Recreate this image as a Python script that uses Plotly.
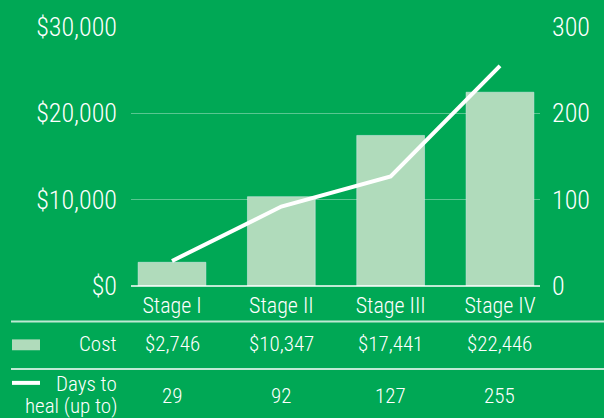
import plotly.graph_objects as go

stages = ["Stage I", "Stage II", "Stage III", "Stage IV"]
cost = [2746, 10347, 17441, 22446]
days = [29, 92, 127, 255]
cost_ticks = [0, 10000, 20000, 30000]
day_ticks = [0, 100, 200, 300]

BG = "#00a855"
BAR = "#b0dbbb"
FONT = "Roboto Condensed, Roboto, sans-serif"
WT = 350

W, H = 604, 418
L, R, T, B = 131, 64, 24, 132
PH = H - T - B  # plot height
PW = W - L - R


def py(pix):
    return (H - B - pix) / PH


def px(pix):
    return (pix - L) / PW


fig = go.Figure()
fig.add_trace(go.Bar(x=list(range(len(stages))), y=cost, marker_color=BAR,
                     width=0.62, yaxis="y", showlegend=False, hoverinfo="skip"))
fig.add_trace(go.Scatter(x=list(range(len(stages))), y=days, mode="lines",
                         line=dict(color="white", width=4), yaxis="y2",
                         showlegend=False, hoverinfo="skip"))

fig.update_layout(
    width=W, height=H,
    margin=dict(l=L, r=R, t=T, b=B, pad=0),
    paper_bgcolor=BG, plot_bgcolor=BG,
    font=dict(family=FONT, color="white", weight=WT),
    xaxis=dict(range=[-0.375, 3.366], tickmode="array",
               tickvals=list(range(len(stages))), ticktext=stages,
               tickfont=dict(size=22, color="white", weight=WT), showgrid=False,
               zeroline=False, showline=False, ticks="", ticklabelstandoff=4),
    yaxis=dict(range=[0, 30000], tickmode="array", tickvals=cost_ticks,
               ticktext=["${:,}".format(v) for v in cost_ticks],
               tickfont=dict(size=26, color="white", weight=WT),
               gridcolor="rgba(255,255,255,0.35)", gridwidth=1,
               zeroline=False, showline=False, ticks="", ticklabelstandoff=13),
    yaxis2=dict(range=[0, 300], tickmode="array", tickvals=day_ticks,
                ticktext=[str(v) for v in day_ticks], overlaying="y",
                side="right", showgrid=False, zeroline=False,
                tickfont=dict(size=26, color="white", weight=WT), ticks="",
                ticklabelstandoff=11),
)

shapes = []
# baseline
shapes.append(dict(type="line", xref="paper", yref="paper", x0=0, x1=1,
                   y0=0, y1=0, line=dict(color="rgba(255,255,255,0.75)", width=2)))
# table lines
for yy in (322, 370):
    shapes.append(dict(type="line", xref="paper", yref="paper",
                       x0=px(11), x1=px(604), y0=py(yy), y1=py(yy),
                       line=dict(color="rgba(255,255,255,0.75)", width=2)))
# legend swatches
shapes.append(dict(type="rect", xref="paper", yref="paper",
                   x0=px(12), x1=px(40), y0=py(351), y1=py(340),
                   fillcolor=BAR, line=dict(width=0)))
shapes.append(dict(type="line", xref="paper", yref="paper",
                   x0=px(12), x1=px(40), y0=py(384), y1=py(384),
                   line=dict(color="white", width=4)))

TF = dict(size=21, color="white", family=FONT, weight=WT)
ann = []
ann.append(dict(text="Cost", xref="paper", yref="paper", x=px(119), y=py(345),
                xanchor="right", yanchor="middle", showarrow=False, font=TF))
ann.append(dict(text="Days to", xref="paper", yref="paper",
                x=px(119), y=py(385), xanchor="right", yanchor="middle",
                showarrow=False, font=TF))
ann.append(dict(text="heal (up to)", xref="paper", yref="paper",
                x=px(119), y=py(407), xanchor="right", yanchor="middle",
                showarrow=False, font=TF))
for i, (c, d) in enumerate(zip(cost, days)):
    ann.append(dict(text="${:,}".format(c), xref="x", yref="paper", x=i,
                    y=py(345), xanchor="center", yanchor="middle",
                    showarrow=False, font=TF))
    ann.append(dict(text=str(d), xref="x", yref="paper", x=i, y=py(397),
                    xanchor="center", yanchor="middle", showarrow=False,
                    font=TF))

fig.update_layout(shapes=shapes, annotations=ann)
fig.write_html("out.html", config={"displayModeBar": False},
               post_script="document.body.style.margin='0';")
